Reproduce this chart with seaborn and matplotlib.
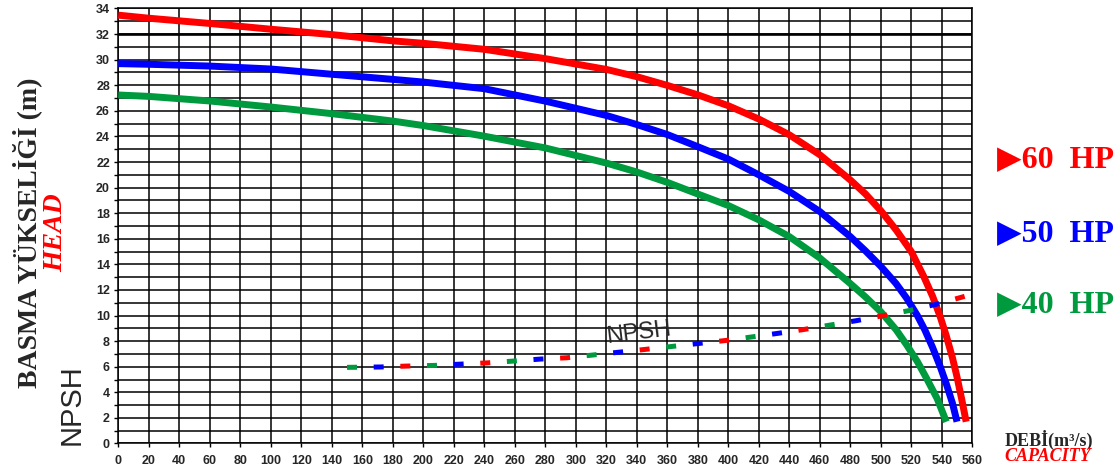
import matplotlib
matplotlib.use("Agg")
import matplotlib.pyplot as plt
import pandas as pd
import seaborn as sns
from matplotlib.ticker import MultipleLocator

# pump curves (x = capacity, y = head in m)
hp60_x = [0, 20, 60, 100, 140, 180, 200, 240, 280, 320, 340, 360, 380, 400,
          420, 440, 460, 480, 490, 500, 510, 520, 528, 534, 539, 543, 547,
          550, 553, 556]
hp60_y = [33.48, 33.24, 32.83, 32.38, 31.96, 31.47, 31.28, 30.81, 30.08, 29.24,
          28.67, 27.99, 27.25, 26.4, 25.36, 24.13, 22.57, 20.6, 19.5, 18.2,
          16.7, 15.0, 13.1, 11.5, 9.9, 8.4, 6.7, 5.2, 3.5, 1.7]

hp50_x = [0, 20, 60, 100, 140, 180, 200, 240, 280, 320, 340, 360, 380, 400,
          420, 440, 460, 480, 490, 500, 510, 517, 524, 529, 534, 539, 543, 547, 550]
hp50_y = [29.69, 29.64, 29.5, 29.27, 28.86, 28.46, 28.25, 27.73, 26.76, 25.64,
          24.93, 24.15, 23.2, 22.23, 21.0, 19.7, 18.13, 16.17, 15.05, 13.85,
          12.5, 11.35, 10.0, 8.85, 7.5, 6.0, 4.65, 3.15, 1.7]

hp40_x = [0, 20, 60, 100, 140, 180, 200, 240, 280, 320, 340, 360, 380, 400,
          420, 440, 460, 480, 490, 500, 510, 517, 524, 530, 537, 543]
hp40_y = [27.24, 27.13, 26.77, 26.3, 25.78, 25.2, 24.85, 24.02, 23.1, 21.92,
          21.22, 20.41, 19.5, 18.6, 17.48, 16.17, 14.5, 12.5, 11.45, 10.3,
          8.9, 7.7, 6.4, 5.1, 3.5, 1.7]

npsh_x = [150, 172, 189, 207, 224, 242, 259, 277, 294, 310, 346, 399, 432,
          449, 484, 502, 519, 537, 555]
npsh_y = [5.95, 5.98, 6.05, 6.1, 6.2, 6.3, 6.44, 6.6, 6.7, 6.9, 7.36, 8.06,
          8.6, 8.9, 9.6, 10.0, 10.4, 10.9, 11.5]

RED, BLUE, GREEN = "#FF0000", "#0000FF", "#009A3E"
curves = [("60", hp60_x, hp60_y, RED), ("50", hp50_x, hp50_y, BLUE),
          ("40", hp40_x, hp40_y, GREEN)]

sns.set_theme(style="white")
plt.rcParams["font.family"] = ["Liberation Sans", "DejaVu Sans"]
plt.rcParams["lines.scale_dashes"] = False

fig = plt.figure(figsize=(11.2, 4.69), dpi=100)
ax = fig.add_axes([0.1056, 0.0544, 0.7625, 0.9275])

for hp, xs, ys, col in curves:
    df = pd.DataFrame({"q": xs, "h": ys})
    sns.lineplot(data=df, x="q", y="h", ax=ax, color=col, lw=5, sort=False,
                 solid_capstyle="butt", solid_joinstyle="round", zorder=3)

# NPSH: one path, three interleaved dash colours
npsh = pd.DataFrame({"q": npsh_x, "h": npsh_y})
for col, off in [(GREEN, 0), (BLUE, 38.4), (RED, 19.2)]:
    sns.lineplot(data=npsh, x="q", y="h", ax=ax, color=col, lw=3.6, sort=False,
                 linestyle=(off, (7.2, 50.4)), dash_capstyle="butt", zorder=4)
ax.text(341, 8.6, "NPSH", rotation=7, fontsize=17, ha="center", va="center",
        family="Liberation Sans", zorder=5)

ax.set_xlim(0, 560)
ax.set_ylim(0, 34)
ax.xaxis.set_major_locator(MultipleLocator(20))
ax.yaxis.set_major_locator(MultipleLocator(2))
ax.yaxis.set_minor_locator(MultipleLocator(1))
ax.grid(True, which="major", color="black", lw=1.1)
ax.grid(True, which="minor", axis="y", color="black", lw=1.1)
ax.axhline(32, color="black", lw=1.9, zorder=2)
ax.set_axisbelow(True)
ax.tick_params(which="both", direction="out", length=3, width=1, color="black",
               left=True, bottom=True, labelsize=9, pad=3)
ax.tick_params(axis="x", pad=5)
for lab in ax.get_xticklabels() + ax.get_yticklabels():
    lab.set_fontweight("bold")
for sp in ax.spines.values():
    sp.set_color("black")
    sp.set_linewidth(1.1)
ax.set_xlabel("")
ax.set_ylabel("")

serif = ["Liberation Serif", "DejaVu Serif"]
fig.text(0.0241, 0.503, "BASMA YÜKSELİĞİ (m)", rotation=90, ha="center",
         va="center", fontsize=20, fontweight="bold", family=serif)
fig.text(0.050, 0.503, "HEAD", rotation=90, ha="center", va="center",
         fontsize=20, fontweight="bold", fontstyle="italic", color=RED, family=serif)
fig.text(0.0643, 0.1365, "NPSH", rotation=90, ha="center", va="center",
         fontsize=21, family="Liberation Sans")

for (hp, _, _, col), yf in zip(curves, [0.659, 0.503, 0.350]):
    fig.text(0.890, yf, "▶" + hp + "  HP", ha="left", va="center", fontsize=23,
             fontweight="bold", color=col,
             family=["Liberation Serif", "DejaVu Sans"])

fig.text(0.897, 0.062, "DEBİ(m³/s)", ha="left", va="center", fontsize=13,
         fontweight="bold", family=serif)
fig.text(0.897, 0.0256, "CAPACITY", ha="left", va="center", fontsize=13,
         fontweight="bold", fontstyle="italic", color=RED, family=serif)

fig.savefig("out.png", dpi=100)
